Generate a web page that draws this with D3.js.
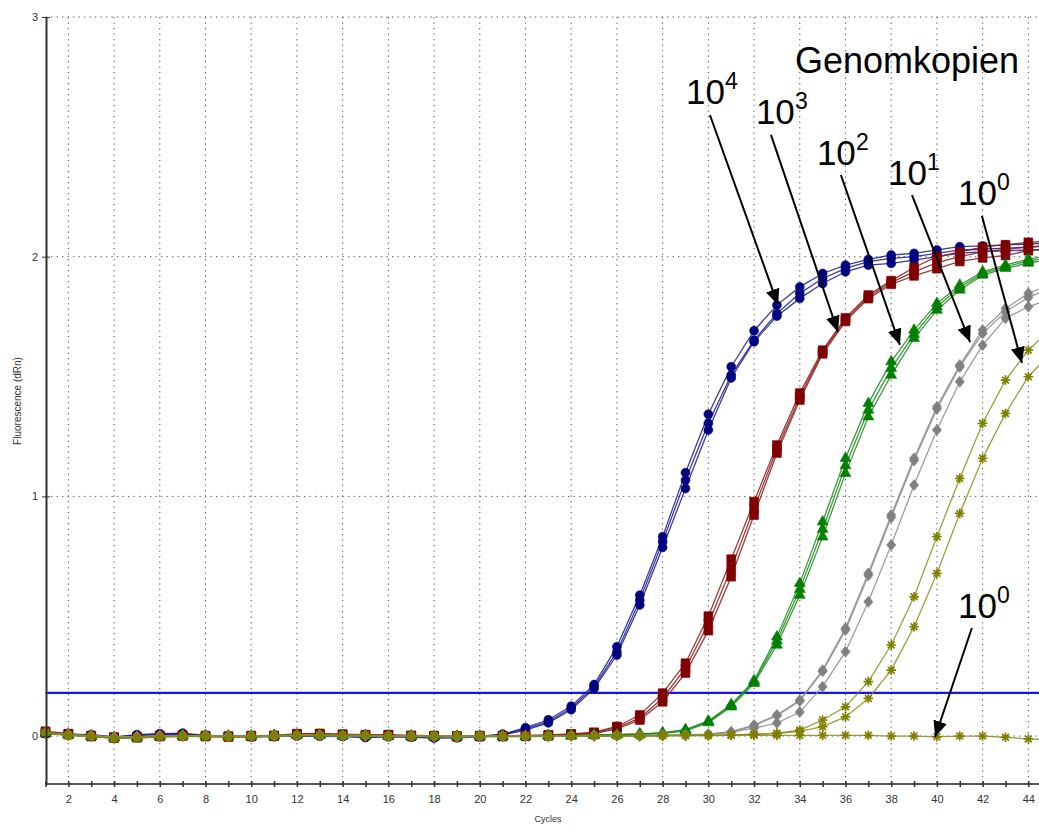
<!DOCTYPE html>
<html>
<head>
<meta charset="utf-8">
<script src="https://cdn.jsdelivr.net/npm/d3@7"></script>
<style>
body { margin: 0; background: #fff; }
svg { display: block; font-family: "Liberation Sans", Arial, sans-serif; }
</style>
</head>
<body>
<script>
// cycles and tick labels
const cycles = [1,2,3,4,5,6,7,8,9,10,11,12,13,14,15,16,17,18,19,20,21,22,23,24,25,26,27,28,29,30,31,32,33,34,35,36,37,38,39,40,41,42,43,44,45];
const xTickLabels = [2,4,6,8,10,12,14,16,18,20,22,24,26,28,30,32,34,36,38,40,42,44];
const yTickLabels = [0,1,2,3];
const threshold = 0.18;

// 10^4 copies (blue)
const blue1 = [0.015,0.008,0.006,-0.004,0.006,0.010,0.012,0.003,0.001,0.000, 0.002,0.004,0.003,0.002,-0.002,0.001,-0.001,-0.004,-0.003,0.000, 0.008,0.035,0.068,0.125,0.215,0.373,0.588,0.832,1.099,1.343, 1.541,1.691,1.798,1.874,1.930,1.965,1.989,2.007,2.014,2.028, 2.042,2.045,2.049,2.053,2.057];
const blue2 = [0.012,0.006,0.004,-0.006,0.004,0.008,0.010,0.001,-0.001,-0.002, 0.000,0.002,0.001,0.000,-0.004,-0.001,-0.003,-0.006,-0.005,-0.002, 0.006,0.030,0.060,0.117,0.205,0.352,0.567,0.811,1.068,1.305, 1.506,1.652,1.763,1.847,1.909,1.951,1.979,1.993,2.000,2.014, 2.028,2.031,2.036,2.040,2.044];
const blue3 = [0.010,0.004,0.002,-0.008,0.002,0.006,0.008,0.000,-0.002,-0.003, -0.002,0.000,-0.001,-0.002,-0.006,-0.003,-0.005,-0.008,-0.007,-0.004, 0.004,0.025,0.055,0.110,0.198,0.338,0.547,0.787,1.033,1.277, 1.494,1.645,1.752,1.826,1.888,1.937,1.965,1.972,1.986,2.000, 2.014,2.021,2.024,2.028,2.032];

// 10^3 copies (red)
const red1 = [0.020,0.010,0.002,-0.004,-0.003,0.002,0.004,0.002,0.000,0.002, 0.003,0.010,0.011,0.008,0.006,0.006,0.003,0.002,0.001,0.002, 0.002,0.003,0.005,0.009,0.016,0.040,0.088,0.179,0.304,0.500, 0.738,0.978,1.214,1.431,1.610,1.745,1.840,1.900,1.955,2.000, 2.020,2.040,2.050,2.060,2.065];
const red2 = [0.016,0.008,0.000,-0.006,-0.005,0.000,0.002,0.000,-0.002,0.000, 0.001,0.008,0.009,0.006,0.004,0.004,0.001,0.000,-0.001,0.000, 0.000,0.001,0.003,0.007,0.013,0.035,0.075,0.158,0.283,0.470, 0.700,0.950,1.198,1.415,1.603,1.738,1.833,1.893,1.937,1.975, 2.000,2.020,2.030,2.040,2.048];
const red3 = [0.012,0.006,-0.002,-0.008,-0.007,-0.002,0.000,-0.002,-0.004,-0.002, -0.001,0.006,0.007,0.004,0.002,0.002,-0.001,-0.002,-0.003,-0.002, -0.002,-0.001,0.001,0.005,0.010,0.030,0.067,0.143,0.263,0.440, 0.665,0.922,1.181,1.402,1.595,1.730,1.825,1.885,1.920,1.950, 1.980,1.995,2.005,2.025,2.033];

// 10^2 copies (green)
const green1 = [0.013,0.007,0.001,-0.005,-0.003,0.001,0.003,0.003,0.001,0.001, 0.003,0.005,0.005,0.003,0.003,0.001,0.001,-0.001,-0.001,0.001, 0.001,0.001,0.003,0.003,0.005,0.007,0.009,0.014,0.027,0.063, 0.132,0.232,0.414,0.637,0.894,1.159,1.388,1.562,1.694,1.805, 1.882,1.937,1.965,1.990,2.005];
const green2 = [0.012,0.006,0.000,-0.006,-0.004,0.000,0.002,0.002,0.000,0.000, 0.002,0.004,0.004,0.002,0.002,0.000,0.000,-0.002,-0.002,0.000, 0.000,0.000,0.002,0.002,0.004,0.006,0.008,0.012,0.025,0.060, 0.128,0.226,0.397,0.612,0.862,1.128,1.360,1.534,1.676,1.791, 1.872,1.930,1.958,1.982,1.997];
const green3 = [0.011,0.005,-0.001,-0.007,-0.005,-0.001,0.001,0.001,-0.001,-0.001, 0.001,0.003,0.003,0.001,0.001,-0.001,-0.001,-0.003,-0.003,-0.001, -0.001,-0.001,0.001,0.001,0.003,0.005,0.007,0.010,0.022,0.056, 0.122,0.220,0.380,0.588,0.831,1.096,1.332,1.506,1.659,1.777, 1.861,1.923,1.951,1.973,1.990];

// 10^1 copies (grey)
const grey1 = [0.014,0.006,0.002,-0.004,-0.002,0.002,0.002,0.002,0.000,0.002, 0.002,0.004,0.004,0.002,0.002,0.000,0.000,0.000,-0.002,0.000, 0.000,0.000,0.000,0.002,0.002,0.002,0.002,0.004,0.005,0.008, 0.018,0.046,0.088,0.150,0.275,0.450,0.679,0.922,1.159,1.374, 1.548,1.694,1.784,1.847,1.885];
const grey2 = [0.013,0.005,0.001,-0.005,-0.003,0.001,0.001,0.001,-0.001,0.001, 0.001,0.003,0.003,0.001,0.001,-0.001,-0.001,-0.001,-0.003,-0.001, -0.001,-0.001,-0.001,0.001,0.001,0.001,0.001,0.003,0.004,0.007, 0.017,0.044,0.085,0.146,0.270,0.442,0.670,0.912,1.150,1.365, 1.540,1.680,1.770,1.830,1.870];
const grey3 = [0.012,0.004,0.000,-0.006,-0.004,0.000,0.000,0.000,-0.002,0.000, 0.000,0.002,0.002,0.000,0.000,-0.002,-0.002,-0.002,-0.004,-0.002, -0.002,-0.002,-0.002,0.000,0.000,0.000,0.000,0.002,0.003,0.006, 0.015,0.033,0.054,0.100,0.206,0.352,0.560,0.797,1.047,1.277, 1.478,1.631,1.743,1.791,1.825];

// 10^0 copies (olive), third replicate stays flat
const olive1 = [0.016,0.004,0.000,-0.008,-0.006,-0.002,0.000,0.000,-0.002,0.000, 0.002,0.004,0.004,0.004,0.004,0.002,0.002,0.002,0.002,0.002, 0.002,0.002,0.002,0.002,0.002,0.002,0.002,0.003,0.003,0.004, 0.005,0.008,0.012,0.025,0.067,0.122,0.227,0.380,0.581,0.832, 1.075,1.305,1.485,1.610,1.700];
const olive2 = [0.015,0.003,-0.001,-0.009,-0.007,-0.003,-0.001,-0.001,-0.003,-0.001, 0.001,0.003,0.003,0.003,0.003,0.001,0.001,0.001,0.001,0.001, 0.001,0.001,0.001,0.001,0.001,0.001,0.001,0.002,0.002,0.003, 0.004,0.007,0.010,0.020,0.039,0.080,0.157,0.275,0.456,0.679, 0.929,1.159,1.346,1.499,1.600];
const olive3 = [0.014,0.002,-0.002,-0.010,-0.008,-0.004,-0.002,-0.002,-0.004,-0.002, 0.000,0.002,0.002,0.002,0.002,0.000,0.000,0.000,0.000,0.000, 0.000,0.000,0.000,0.000,0.000,0.000,0.001,0.001,0.002,0.002, 0.003,0.003,0.003,0.003,0.003,0.003,0.003,0.000,0.000,-0.003, 0.000,0.000,-0.005,-0.012,-0.015];

// labels + arrows in data units (cycle, dRn)
const labelText = ["10", "10", "10", "10", "10", "10"];
const labelExp = ["4", "3", "2", "1", "0", "0"];
const labelPos = [[29.02, 2.637], [32.08, 2.554], [34.75, 2.382], [37.86, 2.299], [40.92, 2.216], [40.92, 0.493]];
const arrowFrom = [[30.07, 2.591], [32.74, 2.508], [35.80, 2.341], [38.91, 2.257], [41.97, 2.170], [41.53, 0.451]];
const arrowTo = [[33.05, 1.798], [35.67, 1.686], [38.38, 1.632], [41.45, 1.644], [43.72, 1.556], [39.92, -0.004]];

const groups = [
    {color: "#000080", line: "#1a1a8c", shape: "circle", reps: [blue1, blue2, blue3]},
    {color: "#800000", line: "#8c1a1a", shape: "square", reps: [red1, red2, red3]},
    {color: "#008000", line: "#1a8c1a", shape: "triangle", reps: [green1, green2, green3]},
    {color: "#808080", line: "#8c8c8c", shape: "diamond", reps: [grey1, grey2, grey3]},
    {color: "#808000", line: "#8c8c1a", shape: "asterisk", reps: [olive1, olive2, olive3]}
];

const W = 1039, H = 827;

const svg = d3.select("body").append("svg")
    .attr("width", W)
    .attr("height", H);

const x = d3.scaleLinear().domain([1, 45]).range([45.5, 1051.2]);
const y = d3.scaleLinear().domain([-0.2, 3]).range([784, 17]);

// dotted grid
svg.append("g").selectAll("line")
    .data(xTickLabels)
    .enter().append("line")
    .attr("x1", d => x(d)).attr("x2", d => x(d))
    .attr("y1", y(3)).attr("y2", y(-0.2))
    .attr("stroke", "#555")
    .attr("stroke-width", 1)
    .attr("stroke-dasharray", "1.3,4.2");

svg.append("g").selectAll("line")
    .data(yTickLabels)
    .enter().append("line")
    .attr("x1", x(1)).attr("x2", W)
    .attr("y1", d => y(d)).attr("y2", d => y(d))
    .attr("stroke", "#555")
    .attr("stroke-width", 1)
    .attr("stroke-dasharray", "1.3,4.2");

// threshold line
svg.append("line")
    .attr("x1", x(1)).attr("x2", W)
    .attr("y1", y(threshold)).attr("y2", y(threshold))
    .attr("stroke", "#1414f0")
    .attr("stroke-width", 2.2);

// symbol paths
const shapes = {
    circle: d3.symbol(d3.symbolCircle, 62)(),
    square: d3.symbol(d3.symbolSquare, 78)(),
    triangle: d3.symbol(d3.symbolTriangle, 52)(),
    diamond: "M0,-5.5L4.6,0L0,5.5L-4.6,0Z",
    asterisk: "M-4.8,0L4.8,0M0,-4.8L0,4.8M-3.4,-3.4L3.4,3.4M-3.4,3.4L3.4,-3.4"
};

const line = d3.line()
    .x((d, i) => x(cycles[i]))
    .y(d => y(d));

groups.forEach(g => {
    const gg = svg.append("g");
    g.reps.forEach(rep => {
        gg.append("path")
            .attr("d", line(rep))
            .attr("fill", "none")
            .attr("stroke", g.line)
            .attr("stroke-width", 1.3)
            .attr("opacity", 0.85);
    });
    g.reps.forEach(rep => {
        gg.selectAll(null)
            .data(rep)
            .enter().append("path")
            .attr("transform", (d, i) => `translate(${x(cycles[i])},${y(d)})`)
            .attr("d", shapes[g.shape])
            .attr("fill", g.shape === "asterisk" ? "none" : g.color)
            .attr("stroke", g.color)
            .attr("stroke-width", g.shape === "asterisk" ? 1.7 : 0.6);
    });
});

// bottom axis
const xAxis = svg.append("g")
    .attr("transform", `translate(0,${y(-0.2)})`)
    .call(d3.axisBottom(x).tickValues(cycles.slice(0, 44)).tickSizeInner(3).tickSizeOuter(0).tickPadding(8)
        .tickFormat(d => xTickLabels.includes(d) ? d : ""));
xAxis.select(".domain").attr("stroke", "#555").attr("stroke-width", 2).attr("d", `M${x(1)},0H${W}`);
xAxis.selectAll(".tick line").attr("y1", -3).attr("y2", 3).attr("stroke", "#333").attr("stroke-width", 1.5);
xAxis.selectAll(".tick text").attr("fill", "#333").style("font-size", "11px").style("font-family", "Liberation Sans, Arial, sans-serif");

// left axis
const yAxis = svg.append("g")
    .attr("transform", `translate(${x(1) + 0.5},0)`)
    .call(d3.axisLeft(y).tickValues(yTickLabels).tickFormat(d3.format("d"))
        .tickSizeInner(4).tickSizeOuter(0).tickPadding(4));
yAxis.select(".domain").attr("stroke", "#333").attr("stroke-width", 2);
yAxis.selectAll(".tick line").attr("x1", -4).attr("x2", 4).attr("stroke", "#333");
yAxis.selectAll(".tick text").attr("fill", "#333").style("font-size", "11px").style("font-family", "Liberation Sans, Arial, sans-serif");

// axis titles
svg.append("text")
    .attr("x", 548)
    .attr("y", 822)
    .attr("text-anchor", "middle")
    .style("font-size", "9px")
    .attr("fill", "#333")
    .text("Cycles");

svg.append("text")
    .attr("transform", "rotate(-90)")
    .attr("x", -401)
    .attr("y", 21)
    .attr("text-anchor", "middle")
    .style("font-size", "10px")
    .attr("fill", "#333")
    .text("Fluorescence (dRn)");

// arrows
svg.append("defs").append("marker")
    .attr("id", "head")
    .attr("markerUnits", "userSpaceOnUse")
    .attr("markerWidth", 18).attr("markerHeight", 14)
    .attr("refX", 16).attr("refY", 7)
    .attr("orient", "auto")
    .append("path")
    .attr("d", "M0,0L16,7L0,14Z")
    .attr("fill", "#000");

svg.append("g").selectAll("line")
    .data(arrowFrom)
    .enter().append("line")
    .attr("x1", d => x(d[0])).attr("y1", d => y(d[1]))
    .attr("x2", (d, i) => x(arrowTo[i][0])).attr("y2", (d, i) => y(arrowTo[i][1]))
    .attr("stroke", "#000")
    .attr("stroke-width", 2)
    .attr("marker-end", "url(#head)");

// copy number labels: base and exponent
svg.append("g").selectAll("text")
    .data(labelPos)
    .enter().append("text")
    .attr("x", d => x(d[0]))
    .attr("y", d => y(d[1]))
    .style("font-size", "35px")
    .attr("fill", "#000")
    .text((d, i) => labelText[i]);

svg.append("g").selectAll("text")
    .data(labelPos)
    .enter().append("text")
    .attr("x", d => x(d[0]) + 39)
    .attr("y", d => y(d[1]) - 15)
    .style("font-size", "23px")
    .attr("fill", "#000")
    .text((d, i) => labelExp[i]);

svg.append("text")
    .attr("x", x(33.79))
    .attr("y", y(2.766))
    .style("font-size", "36px")
    .attr("fill", "#000")
    .text("Genomkopien");
</script>
</body>
</html>
